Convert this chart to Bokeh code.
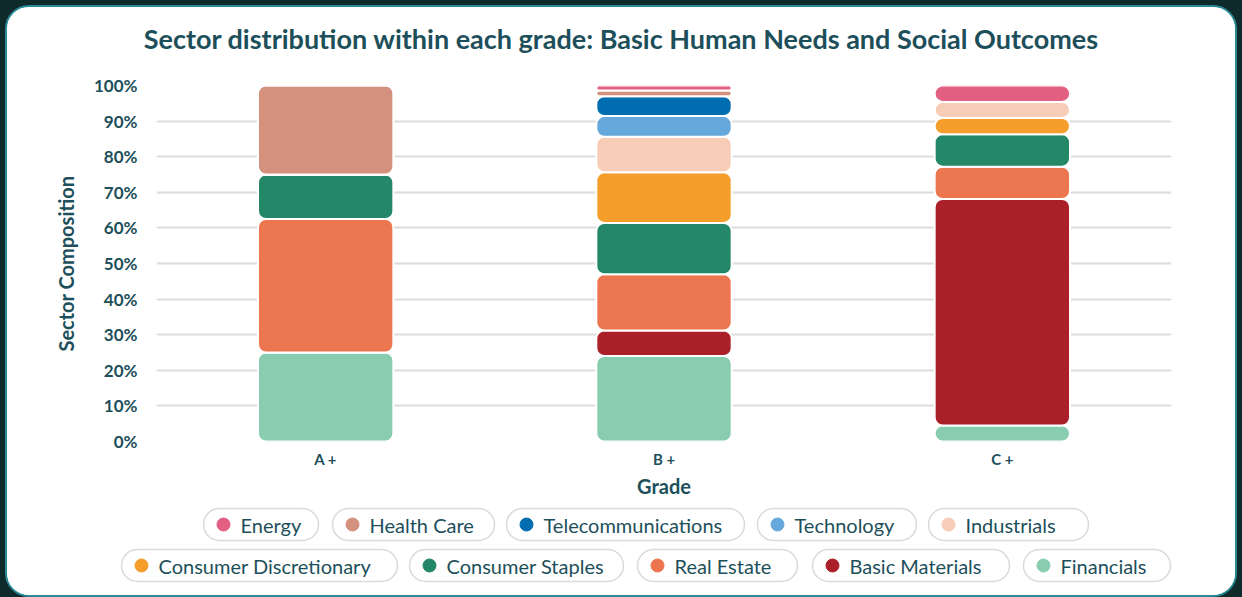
from bokeh.plotting import figure
from bokeh.models import ColumnDataSource, Range1d, PrintfTickFormatter, FixedTicker
from bokeh.layouts import column, row
from bokeh.core.properties import value
from bokeh.embed import file_html
from bokeh.resources import INLINE

# ---------------- data ----------------
title_text = "Sector distribution within each grade: Basic Human Needs and Social Outcomes"
grades = ["A +", "B +", "C +"]
# stacked bottom -> top
sectors = ["Financials", "Basic Materials", "Real Estate", "Consumer Staples",
           "Consumer Discretionary", "Industrials", "Technology",
           "Telecommunications", "Health Care", "Energy"]
financials = [25.0, 24.0, 4.5]
basic_materials = [0.0, 7.2, 63.6]
real_estate = [37.5, 15.8, 9.1]
consumer_staples = [12.5, 14.4, 9.1]
consumer_discretionary = [0.0, 14.2, 4.6]
industrials = [0.0, 10.0, 4.5]
technology = [0.0, 5.8, 0.0]
telecommunications = [0.0, 5.6, 0.0]
health_care = [25.0, 1.6, 0.0]
energy = [0.0, 1.4, 4.6]
y_ticks = [0, 10, 20, 30, 40, 50, 60, 70, 80, 90, 100]

colors = {
    "Energy": "#E35F82",
    "Health Care": "#D4917D",
    "Telecommunications": "#006DB1",
    "Technology": "#66A8DB",
    "Industrials": "#F7CDB8",
    "Consumer Discretionary": "#F59E2B",
    "Consumer Staples": "#248868",
    "Real Estate": "#EC764F",
    "Basic Materials": "#AB1F29",
    "Financials": "#89CDB1",
}

TEXT = "#1D4F5B"
FONT = "Lato"
OFF = 7            # card padding + border: content origin in page pixels
W = 1242 - 2 * OFF


def blank_fig(h):
    f = figure(width=W, height=h, x_range=Range1d(0, W), y_range=Range1d(h, 0),
               output_backend="svg", toolbar_location=None,
               min_border_left=0, min_border_right=0, min_border_top=0,
               min_border_bottom=0)
    f.axis.visible = False
    f.grid.visible = False
    f.outline_line_color = None
    f.background_fill_color = "white"
    f.border_fill_color = "white"
    return f


# ---------------- title ----------------
TITLE_H = 70 - OFF
tf = blank_fig(TITLE_H)
tsrc = ColumnDataSource(dict(x=[621 - OFF], y=[38 - OFF], t=[title_text]))
tf.text(x="x", y="y", text="t", source=tsrc, text_align="center",
        text_baseline="middle", text_font=value(FONT), text_font_size="27px",
        text_font_style="bold", text_color=TEXT)

# ---------------- main chart ----------------
source = ColumnDataSource(dict(
    grade=grades,
    **{"Financials": financials, "Basic Materials": basic_materials,
       "Real Estate": real_estate, "Consumer Staples": consumer_staples,
       "Consumer Discretionary": consumer_discretionary, "Industrials": industrials,
       "Technology": technology, "Telecommunications": telecommunications,
       "Health Care": health_care, "Energy": energy}
))

MAIN_H = 430
p = figure(x_range=grades, y_range=Range1d(0, 100), width=W, height=MAIN_H,
           output_backend="svg", toolbar_location=None,
           min_border_left=156 - OFF, min_border_right=W - (1171 - OFF),
           min_border_top=15, min_border_bottom=59)
p.outline_line_color = None
p.background_fill_color = "white"
p.border_fill_color = "white"

p.vbar_stack(sectors, x="grade", width=0.4, source=source,
             color=[colors[s] for s in sectors],
             line_color="white", line_width=2, border_radius=8)

p.xgrid.grid_line_color = None
p.ygrid.grid_line_color = "#DCDCDC"
p.ygrid.grid_line_width = 2
p.yaxis.ticker = FixedTicker(ticks=y_ticks)
p.yaxis.formatter = PrintfTickFormatter(format="%d%%")
for ax in (p.xaxis[0], p.yaxis[0]):
    ax.axis_line_color = None
    ax.major_tick_line_color = None
    ax.minor_tick_line_color = None
    ax.major_tick_out = 0
    ax.major_tick_in = 0
    ax.minor_tick_out = 0
    ax.minor_tick_in = 0
    ax.major_label_text_font = FONT
    ax.major_label_text_color = TEXT
    ax.axis_label_text_font = FONT
    ax.axis_label_text_color = TEXT
    ax.axis_label_text_font_style = "bold"

p.yaxis.axis_label = "Sector Composition"
p.yaxis.axis_label_text_font_size = "20px"
p.yaxis.major_label_text_font_size = "17px"
p.yaxis.major_label_text_font_style = "bold"
p.yaxis.major_label_standoff = 19
p.yaxis.axis_label_standoff = 13

p.xaxis.axis_label = "Grade"
p.xaxis.axis_label_text_font_size = "20px"
p.xaxis.major_label_text_font_size = "15px"
p.xaxis.major_label_text_font_style = "bold"
p.xaxis.major_label_standoff = 8
p.xaxis.axis_label_standoff = 3

# ---------------- legend (pill chips) ----------------
LH = 95
lg = blank_fig(LH)
legend_order = sectors[::-1]
# chip layout (page pixels): left, right edges and row centre
chip_left = [203, 332, 506, 757, 928, 121, 409, 637, 812, 1023]
chip_right = [318, 494, 744, 916, 1088, 397, 623, 797, 1009, 1170]
chip_row_y = [524, 524, 524, 524, 524, 565, 565, 565, 565, 565]
page_off_y = 500
CH = 32

Y = [y - page_off_y for y in chip_row_y]
Lx = [l - OFF for l in chip_left]
Rx = [r - OFF for r in chip_right]
lsrc = ColumnDataSource(dict(
    left=Lx, right=Rx,
    top=[y - CH / 2 for y in Y], bottom=[y + CH / 2 for y in Y],
    dot_x=[l + 20 for l in Lx], text_x=[l + 37 for l in Lx], y=Y,
    label=legend_order, color=[colors[s] for s in legend_order],
))
lg.quad(left="left", right="right", top="top", bottom="bottom", source=lsrc,
        fill_color="white", line_color="#DADADA", line_width=1.5, border_radius=16)
lg.scatter(x="dot_x", y="y", size=13, color="color", source=lsrc)
lg.text(x="text_x", y="y", text="label", source=lsrc, text_baseline="middle",
        text_align="left", text_font=value(FONT), text_font_size="20px",
        text_color=TEXT)

card = column(row(tf), row(p), row(lg), spacing=0,
              styles={"background-color": "white", "border": "2px solid #2A8A93",
                      "border-radius": "24px", "overflow": "hidden"})
page = column(card, spacing=0,
              styles={"background-color": "#0F2A2B", "padding": "5px 5px 0 5px"})
open("out.html", "w").write(file_html(page, INLINE))
